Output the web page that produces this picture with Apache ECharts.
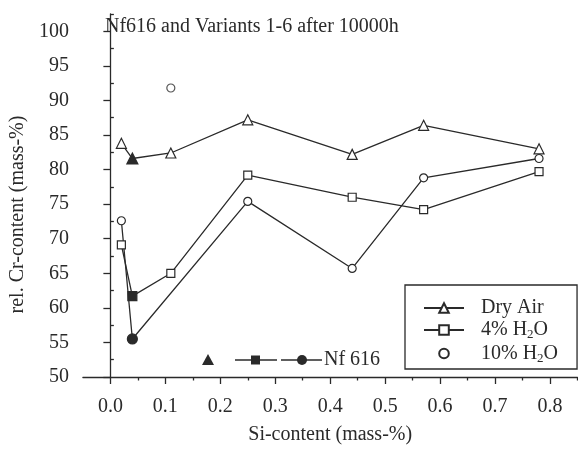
<!DOCTYPE html>
<html>
<head>
<meta charset="utf-8">
<script src="https://cdn.jsdelivr.net/npm/echarts@6/dist/echarts.min.js"></script>
<style>
  html, body { margin: 0; padding: 0; background: #fff; }
  #chart { width: 578px; height: 450px; }
</style>
</head>
<body>
<div id="chart"></div>
<script>
// Si content (mass-%) of Nf616 and variants 1-6
const siContent = [0.02, 0.04, 0.11, 0.25, 0.44, 0.57, 0.78];
// relative Cr content (mass-%) after 10000 h
const dryAir = [83.8, 81.6, 82.4, 87.2, 82.2, 86.4, 83.0];
const h2o4 = [69.1, 61.7, 65.0, 79.2, 76.0, 74.2, 79.7];
// 10% H2O: the point at Si = 0.11 is shown without a connecting line
const h2o10 = [72.6, 55.5, 91.8, 75.4, 65.7, 78.8, 81.6];
const h2o10Isolated = [0.11];
const nf616Si = 0.04;  // base alloy Nf616, drawn with filled symbols

const xMajor = [0, 0.1, 0.2, 0.3, 0.4, 0.5, 0.6, 0.7, 0.8];
const xMinor = [0.05, 0.15, 0.25, 0.35, 0.45, 0.55, 0.65, 0.75, 0.85];
const yMajor = [50, 55, 60, 65, 70, 75, 80, 85, 90, 95, 100];
const yMinor = [52.5, 57.5, 62.5, 67.5, 72.5, 77.5, 82.5, 87.5, 92.5, 97.5, 102.5];

const FONT = 'Liberation Serif';
const INK = '#2a2a2a';

function points(xs, ys, skip, filledSize) {
  const out = [];
  xs.forEach((x, i) => {
    if (skip && skip.includes(x)) return;
    if (x === nf616Si) {
      out.push({ value: [x, ys[i]], symbolSize: filledSize,
                 itemStyle: { color: INK, borderColor: INK } });
    } else {
      out.push([x, ys[i]]);
    }
  });
  return out;
}

const openStyle = { color: '#fff', borderColor: INK, borderWidth: 1.2 };
const lineStyle = { color: INK, width: 1.3 };

const chart = echarts.init(document.getElementById('chart'), null, { renderer: 'canvas' });

chart.setOption({
  animation: false,
  backgroundColor: '#fff',
  textStyle: { fontFamily: FONT, color: INK },
  title: {
    text: 'Nf616 and Variants 1-6 after 10000h',
    left: 100, top: 12,
    textStyle: { fontFamily: FONT, fontSize: 20, fontWeight: 'normal', color: INK }
  },
  grid: { left: 82, right: 0.5, top: 14, bottom: 70 },
  legend: {
    orient: 'vertical',
    left: 405, top: 285,
    padding: [13, 19, 4, 18],
    itemGap: 2,
    itemWidth: 40, itemHeight: 12,
    borderColor: INK, borderWidth: 1.3,
    selectedMode: false,
    data: [
      { name: 'Dry Air' },
      { name: '4% H2O' },
      { name: '10% H2O', lineStyle: { opacity: 0 } }
    ],
    formatter: n => n.replace('H2O', 'H{sub|2}O'),
    textStyle: {
      fontFamily: FONT, fontSize: 20, color: INK, padding: [0, 0, 0, 12],
      rich: { sub: { fontFamily: FONT, fontSize: 13, color: INK, padding: [10, 0, 0, 0] } }
    }
  },
  xAxis: [
    {
      type: 'value', min: -0.05, max: 0.85,
      name: 'Si-content (mass-%)', nameLocation: 'middle', nameGap: 48,
      nameTextStyle: { fontFamily: FONT, fontSize: 20, color: INK },
      axisLine: { lineStyle: { color: INK, width: 1.3 } },
      axisTick: { customValues: xMajor, length: 7, lineStyle: { color: INK, width: 1.3 } },
      axisLabel: { customValues: xMajor, formatter: v => v.toFixed(1), margin: 20,
                   fontFamily: FONT, fontSize: 20, color: INK },
      splitLine: { show: false }
    },
    {
      type: 'value', min: -0.05, max: 0.85, position: 'bottom',
      axisLine: { show: false },
      axisTick: { customValues: xMinor, length: 3.5, lineStyle: { color: INK, width: 1.3 } },
      axisLabel: { show: false },
      splitLine: { show: false }
    }
  ],
  yAxis: [
    {
      type: 'value', min: 50, max: 102.5,
      name: 'rel. Cr-content (mass-%)', nameLocation: 'middle', nameGap: 54,
      nameTextStyle: { fontFamily: FONT, fontSize: 20, color: INK, padding: [0, 38, 0, 0] },
      axisLine: { show: true, lineStyle: { color: INK, width: 1.3 } },
      axisTick: { customValues: yMajor, length: 7, lineStyle: { color: INK, width: 1.3 } },
      axisLabel: { customValues: yMajor, margin: 14, fontFamily: FONT, fontSize: 20, color: INK },
      splitLine: { show: false }
    },
    {
      type: 'value', min: 50, max: 102.5, position: 'left',
      axisLine: { show: false },
      axisTick: { customValues: yMinor, inside: true, length: 3.5, lineStyle: { color: INK, width: 1.3 } },
      axisLabel: { show: false },
      splitLine: { show: false }
    }
  ],
  series: [
    {
      name: 'Dry Air', type: 'line', symbol: 'triangle', symbolSize: 10,
      itemStyle: openStyle, lineStyle: lineStyle,
      data: points(siContent, dryAir, null, 11)
    },
    {
      name: '4% H2O', type: 'line', symbol: 'rect', symbolSize: 8,
      itemStyle: openStyle, lineStyle: lineStyle,
      data: points(siContent, h2o4, null, 9)
    },
    {
      name: '10% H2O', type: 'line', symbol: 'circle', symbolSize: 8,
      itemStyle: openStyle, lineStyle: lineStyle,
      data: points(siContent, h2o10, h2o10Isolated, 10)
    },
    {
      name: '10% H2O', type: 'scatter', symbol: 'circle', symbolSize: 8,
      itemStyle: openStyle,
      data: siContent.map((x, i) => [x, h2o10[i]]).filter(p => h2o10Isolated.includes(p[0]))
    }
  ],
  graphic: [
    {
      type: 'group', left: 202, top: 350,
      children: [
        { type: 'polygon', shape: { points: [[0, 12], [12, 12], [6, 1]] }, style: { fill: INK } },
        { type: 'line', shape: { x1: 33, y1: 7, x2: 75, y2: 7 }, style: { stroke: INK, lineWidth: 1.3 } },
        { type: 'rect', shape: { x: 49, y: 2.5, width: 9, height: 9 }, style: { fill: INK } },
        { type: 'line', shape: { x1: 79, y1: 7, x2: 120, y2: 7 }, style: { stroke: INK, lineWidth: 1.3 } },
        { type: 'circle', shape: { cx: 100, cy: 7, r: 5 }, style: { fill: INK } },
        { type: 'text', x: 122, y: 7,
          style: { text: 'Nf 616', font: '20px "Liberation Serif"', fill: INK, verticalAlign: 'middle' } }
      ]
    }
  ]
});
</script>
</body>
</html>
